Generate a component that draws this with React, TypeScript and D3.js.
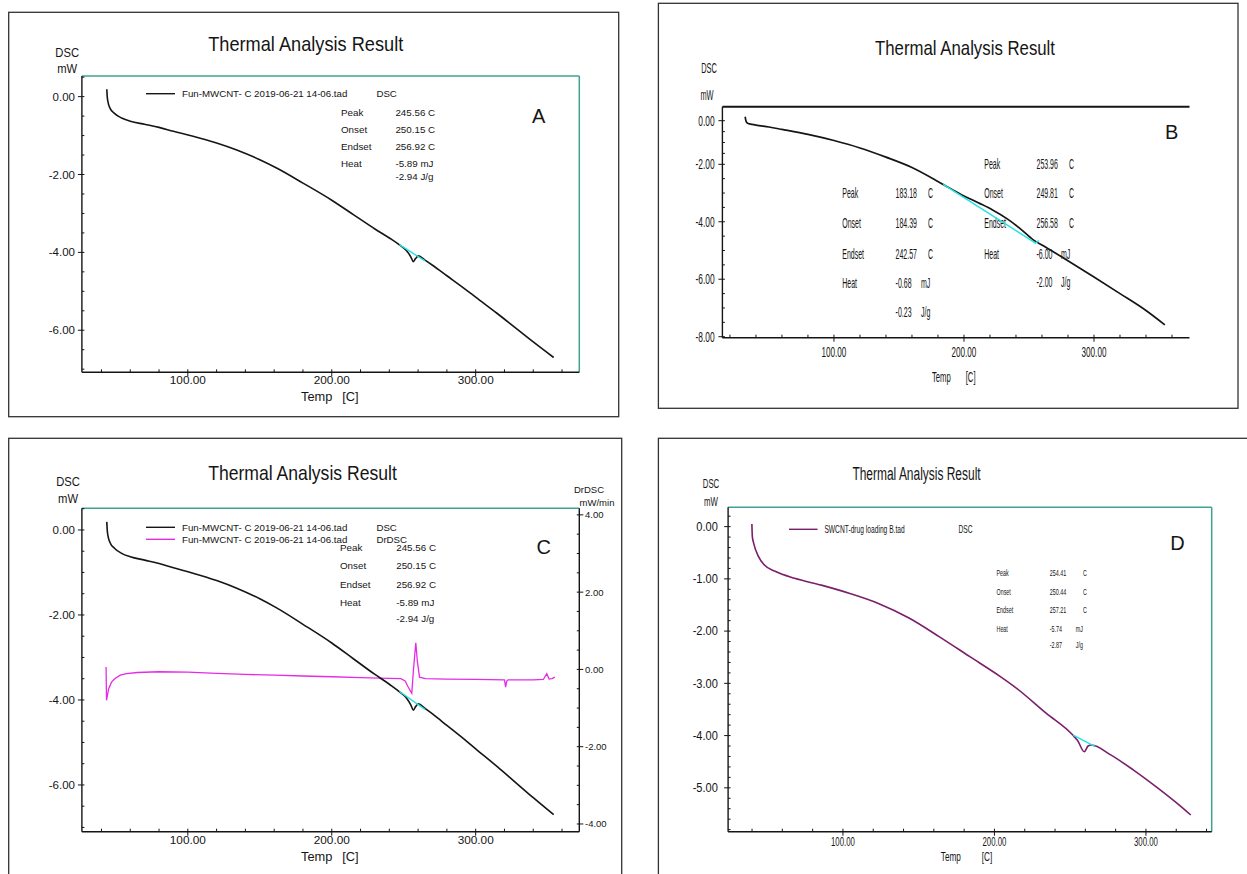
import React from 'react';
import * as d3 from 'd3';

const FONT = '"Liberation Sans", Arial, Helvetica, sans-serif';

// ---------------- DATA ----------------
// Panel A / C : DSC curve (mW) vs Temp (C)
const tempA = [43.7, 44.0, 44.6, 46, 49, 54, 60, 70, 80, 90, 103, 120, 134, 150, 162, 180, 200, 215, 230, 240, 247.5, 252, 255, 256.7, 258.2, 260.2, 264.8, 270, 280, 294, 300, 315, 327, 340, 354.2];
const dscA = [0.19, 0.0, -0.15, -0.3, -0.43, -0.55, -0.63, -0.71, -0.79, -0.89, -1.01, -1.19, -1.37, -1.62, -1.84, -2.22, -2.66, -3.03, -3.4, -3.63, -3.82, -3.96, -4.12, -4.24, -4.16, -4.09, -4.2, -4.33, -4.6, -4.98, -5.15, -5.57, -5.92, -6.3, -6.7];
const baseTA = [247, 264.8];
const baseA = [-3.8, -4.22];

// Panel C : DrDSC curve (mW/min)
const tempDr = [43.2, 43.5, 45, 47, 49.2, 53, 57.4, 65, 80, 100, 120, 140, 160, 180, 200, 220, 240, 248, 251, 253, 255.6, 256.8, 258.4, 259.5, 261, 265, 280, 300, 320, 320.8, 321.6, 322.5, 340, 347, 349.4, 351, 353, 355];
const drdsc = [0.06, -0.8, -0.5, -0.33, -0.24, -0.15, -0.11, -0.08, -0.06, -0.07, -0.1, -0.13, -0.15, -0.17, -0.19, -0.21, -0.23, -0.24, -0.3, -0.45, -0.62, 0.0, 0.69, 0.2, -0.2, -0.24, -0.25, -0.26, -0.27, -0.46, -0.3, -0.27, -0.27, -0.26, -0.11, -0.25, -0.24, -0.2];

// Panel B
const tempB = [31.7, 32.5, 34, 40, 50, 60, 80, 100, 120, 140, 160, 184, 200, 212, 222, 233, 243, 253, 262, 279, 300, 320, 340, 354.5];
const dscB = [0.18, -0.04, -0.13, -0.2, -0.29, -0.4, -0.63, -0.91, -1.25, -1.67, -2.11, -2.7, -3.1, -3.36, -3.59, -3.89, -4.23, -4.62, -4.86, -5.33, -5.92, -6.5, -7.09, -7.59];
const baseTB = [184, 255, 257.5];
const baseB = [-2.7, -4.74, -4.66];

// Panel D
const tempD = [39.9, 40.2, 41.1, 44.2, 48, 55.6, 68.1, 85.7, 104.6, 123.4, 143.6, 163.7, 183.8, 203.9, 214, 234.1, 251.7, 255, 259.3, 261.8, 264, 276.7, 291.8, 308.1, 322, 329.6];
const dscD = [0.05, -0.19, -0.32, -0.57, -0.73, -0.86, -0.99, -1.12, -1.28, -1.47, -1.75, -2.11, -2.49, -2.87, -3.08, -3.57, -3.99, -4.1, -4.31, -4.2, -4.18, -4.37, -4.66, -5.01, -5.33, -5.52];
const baseTD = [252, 266.5];
const baseD = [-3.99, -4.21];

// Ticks
const xMajor = [100, 200, 300];
const xMinor = d3.range(20, 381, 20);
const yMajorA = [0, -2, -4, -6];
const yMajorB = [0, -2, -4, -6, -8];
const yMajorD = [0, -1, -2, -3, -4, -5];
const yMajorR = [4, 2, 0, -2, -4];

// Texts
const title = 'Thermal Analysis Result';
const resultLabels = ['Peak', 'Onset', 'Endset', 'Heat'];
const resultA = ['245.56 C', '250.15 C', '256.92 C', '-5.89 mJ', '-2.94 J/g'];
const numsB1 = ['183.18', '184.39', '242.57', '-0.68', '-0.23'];
const numsB2 = ['253.96', '249.81', '256.58', '-6.00', '-2.00'];
const numsD = ['254.41', '250.44', '257.21', '-5.74', '-2.87'];
const units = ['C', 'C', 'C', 'mJ', 'J/g'];
const fileMW = 'Fun-MWCNT- C 2019-06-21 14-06.tad';
const fileSW = 'SWCNT-drug loading B.tad';

const fmt = (v: number) => (Math.abs(v) < 1e-9 ? 0 : v).toFixed(2);
const TEAL = '#3fa393';
const CYAN = '#22e3e3';
const INK = '#151515';

function Txt({ x, y, size, s = 1, anchor = 'start', fill = INK, children }: any) {
  return (
    <text transform={`translate(${x},${y}) scale(${s},1)`} fontSize={size} textAnchor={anchor}
      dominantBaseline="central" fontFamily={FONT} fill={fill}>{children}</text>
  );
}

function curve(xs: any, ys: any, T: number[], V: number[], kind: any = d3.curveMonotoneX) {
  return d3.line<number>().x((_, i) => xs(T[i])).y((d) => ys(d)).curve(kind)(V) || '';
}

function LeftAxis({ ys, x0, y0, y1, majors, minors, labelX, size, s }: any) {
  return (
    <g>
      <line x1={x0} x2={x0} y1={y0} y2={y1} stroke={INK} strokeWidth={1.4} />
      {minors.map((v: number, i: number) => (
        <line key={'m' + i} x1={x0} x2={x0 + 2.5} y1={ys(v)} y2={ys(v)} stroke={INK} strokeWidth={1} />
      ))}
      {majors.map((v: number, i: number) => (
        <g key={'M' + i}>
          <line x1={x0 - 4} x2={x0} y1={ys(v)} y2={ys(v)} stroke={INK} strokeWidth={1} />
          <Txt x={labelX} y={ys(v)} size={size} s={s} anchor="end">{fmt(v)}</Txt>
        </g>
      ))}
    </g>
  );
}

function RightAxis({ ys, x0, y0, y1, majors, minors, labelX, size, s }: any) {
  return (
    <g>
      <line x1={x0} x2={x0} y1={y0} y2={y1} stroke={INK} strokeWidth={1.4} />
      {minors.map((v: number, i: number) => (
        <line key={'m' + i} x1={x0 - 2.5} x2={x0} y1={ys(v)} y2={ys(v)} stroke={INK} strokeWidth={1} />
      ))}
      {majors.map((v: number, i: number) => (
        <g key={'M' + i}>
          <line x1={x0} x2={x0 + 4} y1={ys(v)} y2={ys(v)} stroke={INK} strokeWidth={1} />
          <Txt x={labelX} y={ys(v)} size={size} s={s} anchor="start">{fmt(v)}</Txt>
        </g>
      ))}
    </g>
  );
}

function BottomAxis({ xs, y0, x0, x1, majors, minors, labelY, size, s }: any) {
  const [d0, d1] = xs.domain();
  return (
    <g>
      <line x1={x0} x2={x1} y1={y0} y2={y0} stroke={INK} strokeWidth={1.4} />
      {minors.filter((v: number) => v > d0 && v < d1).map((v: number, i: number) => (
        <line key={'m' + i} x1={xs(v)} x2={xs(v)} y1={y0 - 3} y2={y0} stroke={INK} strokeWidth={1} />
      ))}
      {majors.map((v: number, i: number) => (
        <g key={'M' + i}>
          <line x1={xs(v)} x2={xs(v)} y1={y0} y2={y0 + 4} stroke={INK} strokeWidth={1} />
          <Txt x={xs(v)} y={labelY} size={size} s={s} anchor="middle">{fmt(v)}</Txt>
        </g>
      ))}
    </g>
  );
}

function Results({ lx, vx, ux, uxC, rows, nums, size, s, combined }: any) {
  return (
    <g>
      {resultLabels.map((t, i) => <Txt key={'l' + i} x={lx} y={rows[i]} size={size} s={s}>{t}</Txt>)}
      {nums.map((t: string, i: number) => <Txt key={'v' + i} x={vx} y={rows[i]} size={size} s={s}>{t}</Txt>)}
      {!combined && units.map((u, i) => (
        <Txt key={'u' + i} x={u === 'C' ? uxC : ux} y={rows[i]} size={size} s={s}>{u}</Txt>
      ))}
    </g>
  );
}

export default function App() {
  // Panel A scales
  const xA = d3.scaleLinear().domain([26.4, 372]).range([81.9, 579.3]);
  const yA = d3.scaleLinear().domain([0.53, -7.08]).range([76, 372.3]);
  // Panel C scales
  const xC = d3.scaleLinear().domain([26.4, 372]).range([81.9, 579.3]);
  const yC = d3.scaleLinear().domain([0.51, -7.1]).range([508.3, 831.7]);
  const yCR = d3.scaleLinear().domain([4.17, -4.2]).range([508.3, 831.7]);
  // Panel B scales
  const xB = d3.scaleLinear().domain([14.2, 373]).range([722.4, 1188.9]);
  const yB = d3.scaleLinear().domain([0.64, 0, -2, -8]).range([106.7, 120.7, 164.3, 336.7]);
  // Panel D scales
  const xD = d3.scaleLinear().domain([24.2, 343.4]).range([728.1, 1211.7]);
  const yD = d3.scaleLinear().domain([0.37, -5.84]).range([507.3, 831.7]);

  const minorsA = d3.range(0.5, -7.01, -0.5);
  const minorsB = d3.range(0, -8.01, -0.5);
  const minorsD = d3.range(0.2, -5.81, -0.2);
  const minorsR = d3.range(4, -4.01, -0.5);

  const big = 20;

  return (
    <svg width={1247} height={874} style={{ position: 'absolute', left: 0, top: 0, background: '#fff' }}>
      <rect x={0} y={0} width={1247} height={874} fill="#fff" />

      {/* ============ PANEL A ============ */}
      <rect x={8.7} y={12.3} width={610} height={404.4} fill="none" stroke="#333" strokeWidth={1.3} />
      <Txt x={305.7} y={44.3} size={big} s={0.91} anchor="middle">{title}</Txt>
      <Txt x={67.2} y={52.3} size={12.5} s={0.9} anchor="middle">DSC</Txt>
      <Txt x={67.2} y={68.3} size={12.5} s={0.9} anchor="middle">mW</Txt>
      <line x1={81.9} x2={579.3} y1={76} y2={76} stroke={TEAL} strokeWidth={1.5} />
      <line x1={579.3} x2={579.3} y1={76} y2={372.3} stroke={TEAL} strokeWidth={1.5} />
      <LeftAxis ys={yA} x0={81.9} y0={76} y1={372.3} majors={yMajorA} minors={minorsA} labelX={75} size={11.5} s={1} />
      <BottomAxis xs={xA} y0={372.3} x0={81.9} x1={579.3} majors={xMajor} minors={xMinor} labelY={380} size={11.8} s={1} />
      <Txt x={316.7} y={396.7} size={12.8} anchor="middle">Temp</Txt>
      <Txt x={350.3} y={396.7} size={12.8} anchor="middle">[C]</Txt>
      <line x1={146} x2={175} y1={93.7} y2={93.7} stroke={INK} strokeWidth={1.4} />
      <Txt x={182} y={93.7} size={9.7}>{fileMW}</Txt>
      <Txt x={376.4} y={93.7} size={9.7}>DSC</Txt>
      <Results lx={341} vx={395.4} rows={[112.3, 129, 146, 163, 176.7]} nums={resultA} size={9.8} s={1} combined />
      <Txt x={538.6} y={116} size={big} anchor="middle">A</Txt>
      <path d={curve(xA, yA, tempA, dscA)} fill="none" stroke={INK} strokeWidth={1.6} />
      <path d={curve(xA, yA, baseTA, baseA, d3.curveLinear)} fill="none" stroke={CYAN} strokeWidth={1.4} />

      {/* ============ PANEL B ============ */}
      <rect x={658.4} y={3.3} width={579.6} height={405} fill="none" stroke="#333" strokeWidth={1.3} />
      <Txt x={965} y={47.7} size={big} s={0.84} anchor="middle">{title}</Txt>
      <Txt x={709} y={68.3} size={14} s={0.53} anchor="middle">DSC</Txt>
      <Txt x={707} y={95} size={14} s={0.53} anchor="middle">mW</Txt>
      <line x1={722.4} x2={1189.5} y1={106.7} y2={106.7} stroke={INK} strokeWidth={2} />
      <LeftAxis ys={yB} x0={722.4} y0={106.7} y1={337.7} majors={yMajorB} minors={minorsB} labelX={714.7} size={14} s={0.6} />
      <BottomAxis xs={xB} y0={337.7} x0={722.4} x1={1189.5} majors={xMajor} minors={xMinor} labelY={351.7} size={14} s={0.58} />
      <Txt x={941.3} y={376.7} size={14} s={0.55} anchor="middle">Temp</Txt>
      <Txt x={970.6} y={376.7} size={14} s={0.55} anchor="middle">[C]</Txt>
      <Results lx={842.3} vx={895.6} ux={921} uxC={928} rows={[193.3, 222.7, 254, 283.3, 311.7]} nums={numsB1} size={14} s={0.5} />
      <Results lx={984.3} vx={1036.5} ux={1061} uxC={1069} rows={[164.3, 193.3, 222.7, 254, 281.7]} nums={numsB2} size={14} s={0.5} />
      <Txt x={1171.7} y={131.7} size={big} anchor="middle">B</Txt>
      <path d={curve(xB, yB, tempB, dscB)} fill="none" stroke={INK} strokeWidth={1.7} />
      <path d={curve(xB, yB, baseTB, baseB, d3.curveLinear)} fill="none" stroke={CYAN} strokeWidth={1.5} />

      {/* ============ PANEL C ============ */}
      <rect x={8.7} y={438.3} width={613} height={450} fill="none" stroke="#333" strokeWidth={1.3} />
      <Txt x={302.5} y={472.7} size={big} s={0.88} anchor="middle">{title}</Txt>
      <Txt x={68} y={481.7} size={12.5} s={0.9} anchor="middle">DSC</Txt>
      <Txt x={68} y={499} size={12.5} s={0.9} anchor="middle">mW</Txt>
      <Txt x={589} y={489.5} size={9.5} anchor="middle">DrDSC</Txt>
      <Txt x={597} y={502.3} size={9.5} anchor="middle">mW/min</Txt>
      <line x1={81.9} x2={579.3} y1={508.3} y2={508.3} stroke={TEAL} strokeWidth={1.5} />
      <LeftAxis ys={yC} x0={81.9} y0={508.3} y1={831.7} majors={yMajorA} minors={minorsA} labelX={75} size={11.5} s={1} />
      <RightAxis ys={yCR} x0={579.3} y0={508.3} y1={831.7} majors={yMajorR} minors={minorsR} labelX={585} size={9.5} s={1} />
      <BottomAxis xs={xC} y0={831.7} x0={81.9} x1={579.3} majors={xMajor} minors={xMinor} labelY={840} size={11.8} s={1} />
      <Txt x={316.7} y={856.7} size={12.8} anchor="middle">Temp</Txt>
      <Txt x={350.3} y={856.7} size={12.8} anchor="middle">[C]</Txt>
      <line x1={146} x2={175} y1={527.3} y2={527.3} stroke={INK} strokeWidth={1.4} />
      <line x1={146} x2={175} y1={539.3} y2={539.3} stroke="#e62be6" strokeWidth={1.4} />
      <Txt x={182} y={527.3} size={9.7}>{fileMW}</Txt>
      <Txt x={182} y={539.3} size={9.7}>{fileMW}</Txt>
      <Txt x={376.4} y={527.3} size={9.7}>DSC</Txt>
      <Txt x={376.4} y={539.3} size={9.7}>DrDSC</Txt>
      <Results lx={340} vx={396.2} rows={[547.3, 565.7, 584.3, 602.7, 618.7]} nums={resultA} size={9.8} s={1} combined />
      <Txt x={543.7} y={546.7} size={big} anchor="middle">C</Txt>
      <path d={curve(xC, yCR, tempDr, drdsc, d3.curveLinear)} fill="none" stroke="#e62be6" strokeWidth={1.3} />
      <path d={curve(xC, yC, tempA, dscA)} fill="none" stroke={INK} strokeWidth={1.6} />
      <path d={curve(xC, yC, baseTA, baseA, d3.curveLinear)} fill="none" stroke={CYAN} strokeWidth={1.4} />

      {/* ============ PANEL D ============ */}
      <rect x={658.4} y={438.3} width={600} height={450} fill="none" stroke="#333" strokeWidth={1.3} />
      <Txt x={916.5} y={473.3} size={19} s={0.63} anchor="middle">{title}</Txt>
      <Txt x={711} y={483.3} size={13} s={0.6} anchor="middle">DSC</Txt>
      <Txt x={711} y={500.7} size={13} s={0.6} anchor="middle">mW</Txt>
      <line x1={728.1} x2={1211.7} y1={507.3} y2={507.3} stroke={TEAL} strokeWidth={1.5} />
      <line x1={1211.7} x2={1211.7} y1={507.3} y2={831.7} stroke={TEAL} strokeWidth={1.5} />
      <LeftAxis ys={yD} x0={728.1} y0={507.3} y1={831.7} majors={yMajorD} minors={minorsD} labelX={717.8} size={13} s={0.85} />
      <BottomAxis xs={xD} y0={831.7} x0={728.1} x1={1211.7} majors={xMajor} minors={xMinor} labelY={840.7} size={13} s={0.6} />
      <Txt x={950.8} y={856} size={13} s={0.63} anchor="middle">Temp</Txt>
      <Txt x={987} y={856} size={13} s={0.63} anchor="middle">[C]</Txt>
      <line x1={789} x2={817.6} y1={529.3} y2={529.3} stroke="#7a1f6a" strokeWidth={1.4} />
      <Txt x={824.4} y={529.3} size={10.5} s={0.635}>{fileSW}</Txt>
      <Txt x={958.5} y={529.3} size={10.5} s={0.635}>DSC</Txt>
      <Results lx={996.5} vx={1049.8} ux={1075.7} uxC={1083} rows={[572.7, 591.7, 610.3, 629, 645]} nums={numsD} size={9.8} s={0.55} />
      <Txt x={1177.4} y={543.3} size={big} anchor="middle">D</Txt>
      <path d={curve(xD, yD, tempD, dscD)} fill="none" stroke="#7a1f6a" strokeWidth={1.6} />
      <path d={curve(xD, yD, baseTD, baseD, d3.curveLinear)} fill="none" stroke={CYAN} strokeWidth={1.4} />
    </svg>
  );
}
